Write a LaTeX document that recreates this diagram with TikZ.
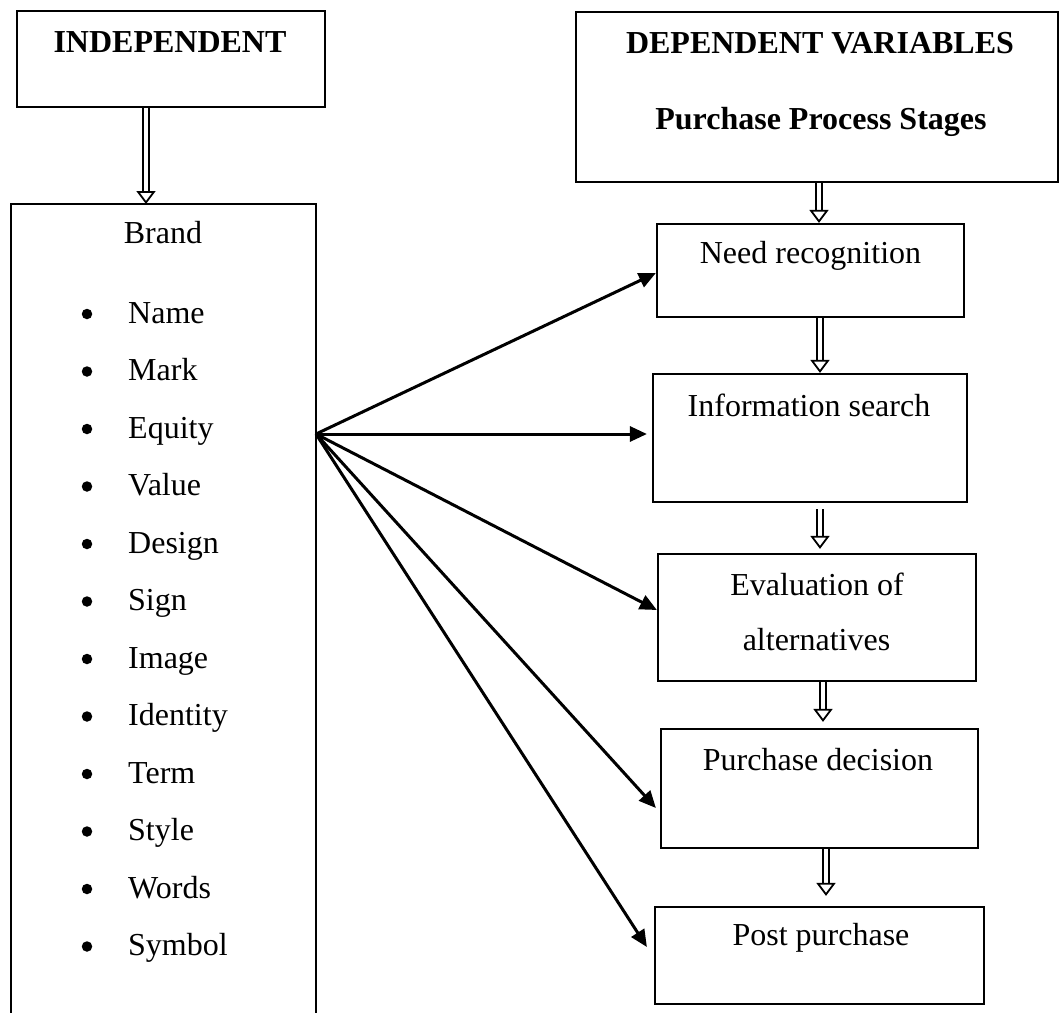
\documentclass[tikz,border=0pt]{standalone}
\usepackage{fontspec}
\setmainfont{Liberation Serif}
\usetikzlibrary{arrows.meta,calc}
\begin{document}
\begin{tikzpicture}[x=1pt,y=-1pt,
  box/.style={draw, line width=2.2pt, inner sep=0pt, rectangle},
  txt/.style={font=\fontsize{32pt}{38pt}\selectfont, inner sep=0pt, anchor=base},
  btxt/.style={txt, font=\fontsize{32pt}{38pt}\selectfont\bfseries},
  item/.style={txt, anchor=base west},
  dot/.style={circle, fill, inner sep=0pt, minimum size=10.5pt},
  link/.style={line width=3pt, -{Triangle[length=17pt,width=15pt]}},
  dbl/.style={double, double distance=4.5pt, line width=1.8pt,
    -{Triangle[open,fill=white,length=13pt,width=19pt,line width=1.8pt]}}
]
\useasboundingbox (0,0) rectangle (1060,1012);

% boxes
\node[box, minimum width=308pt, minimum height=96pt] (ind) at (171,59) {};
\node[box, minimum width=482pt, minimum height=170pt] (dep) at (817,97) {};
\node[box, minimum width=307pt, minimum height=93pt] (need) at (810.5,270.5) {};
\node[box, minimum width=314pt, minimum height=128pt] (info) at (810,438) {};
\node[box, minimum width=318pt, minimum height=127pt] (eval) at (817,617.5) {};
\node[box, minimum width=317pt, minimum height=119pt] (pd) at (819.5,788.5) {};
\node[box, minimum width=329pt, minimum height=97pt] (pp) at (819.5,955.5) {};
\draw[line width=2.2pt] (11,1016) |- (316,204) -- (316,1016);
\coordinate (lefttop) at (146,204);
\coordinate (src) at (316,434);

% texts
\node[btxt] (indt) at (170,52) {INDEPENDENT};
\node[btxt] (dept) at (820,53) {DEPENDENT VARIABLES};
\node[btxt] (stages) at (821,129) {Purchase Process Stages};
\node[txt] (brand) at (163,243) {Brand};
\node[txt] (needt) at (810.5,263) {Need recognition};
\node[txt] (infot) at (809,416) {Information search};
\node[txt] (evalt1) at (817,595) {Evaluation of};
\node[txt] (evalt2) at (816.5,650) {alternatives};
\node[txt] (pdt) at (818,770) {Purchase decision};
\node[txt] (ppt) at (821,945) {Post purchase};

\foreach \w [count=\i] in {Name,Mark,Equity,Value,Design,Sign,Image,Identity,Term,Style,Words,Symbol}{
  \pgfmathsetmacro\yy{323+57.5*(\i-1)}
  \node[item] (t\i) at (128,\yy) {\w};
  \node[dot] (d\i) at (87,\yy-9) {};
}

% double arrows
\draw[dbl] (ind.south -| lefttop) -- (lefttop);
\draw[dbl] ([xshift=2pt]dep.south) -- ([xshift=2pt]dep.south |- need.north);
\draw[dbl] ([xshift=9.5pt]need.south) -- ([xshift=9.5pt]need.south |- info.north);
\draw[dbl, shorten <=6pt, shorten >=4pt] ([xshift=10pt]info.south) -- ([xshift=10pt]info.south |- eval.north);
\draw[dbl, shorten >=6pt] ([xshift=6pt]eval.south) -- ([xshift=6pt]eval.south |- pd.north);
\draw[dbl, shorten >=10pt] ([xshift=6.5pt]pd.south) -- ([xshift=6.5pt]pd.south |- pp.north);

% arrows from brand box
\draw[link] (src) -- ([yshift=-2.5pt]need.west);
\draw[link] (src) -- ([xshift=-5pt,yshift=4pt]info.west);
\draw[link] (src) -- ([yshift=7.5pt]eval.west);
\draw[link] (src) -- ([xshift=-4pt,yshift=-19.5pt]pd.west);
\draw[link] (src) -- ([xshift=-7pt,yshift=8.5pt]pp.west);
\end{tikzpicture}
\end{document}
